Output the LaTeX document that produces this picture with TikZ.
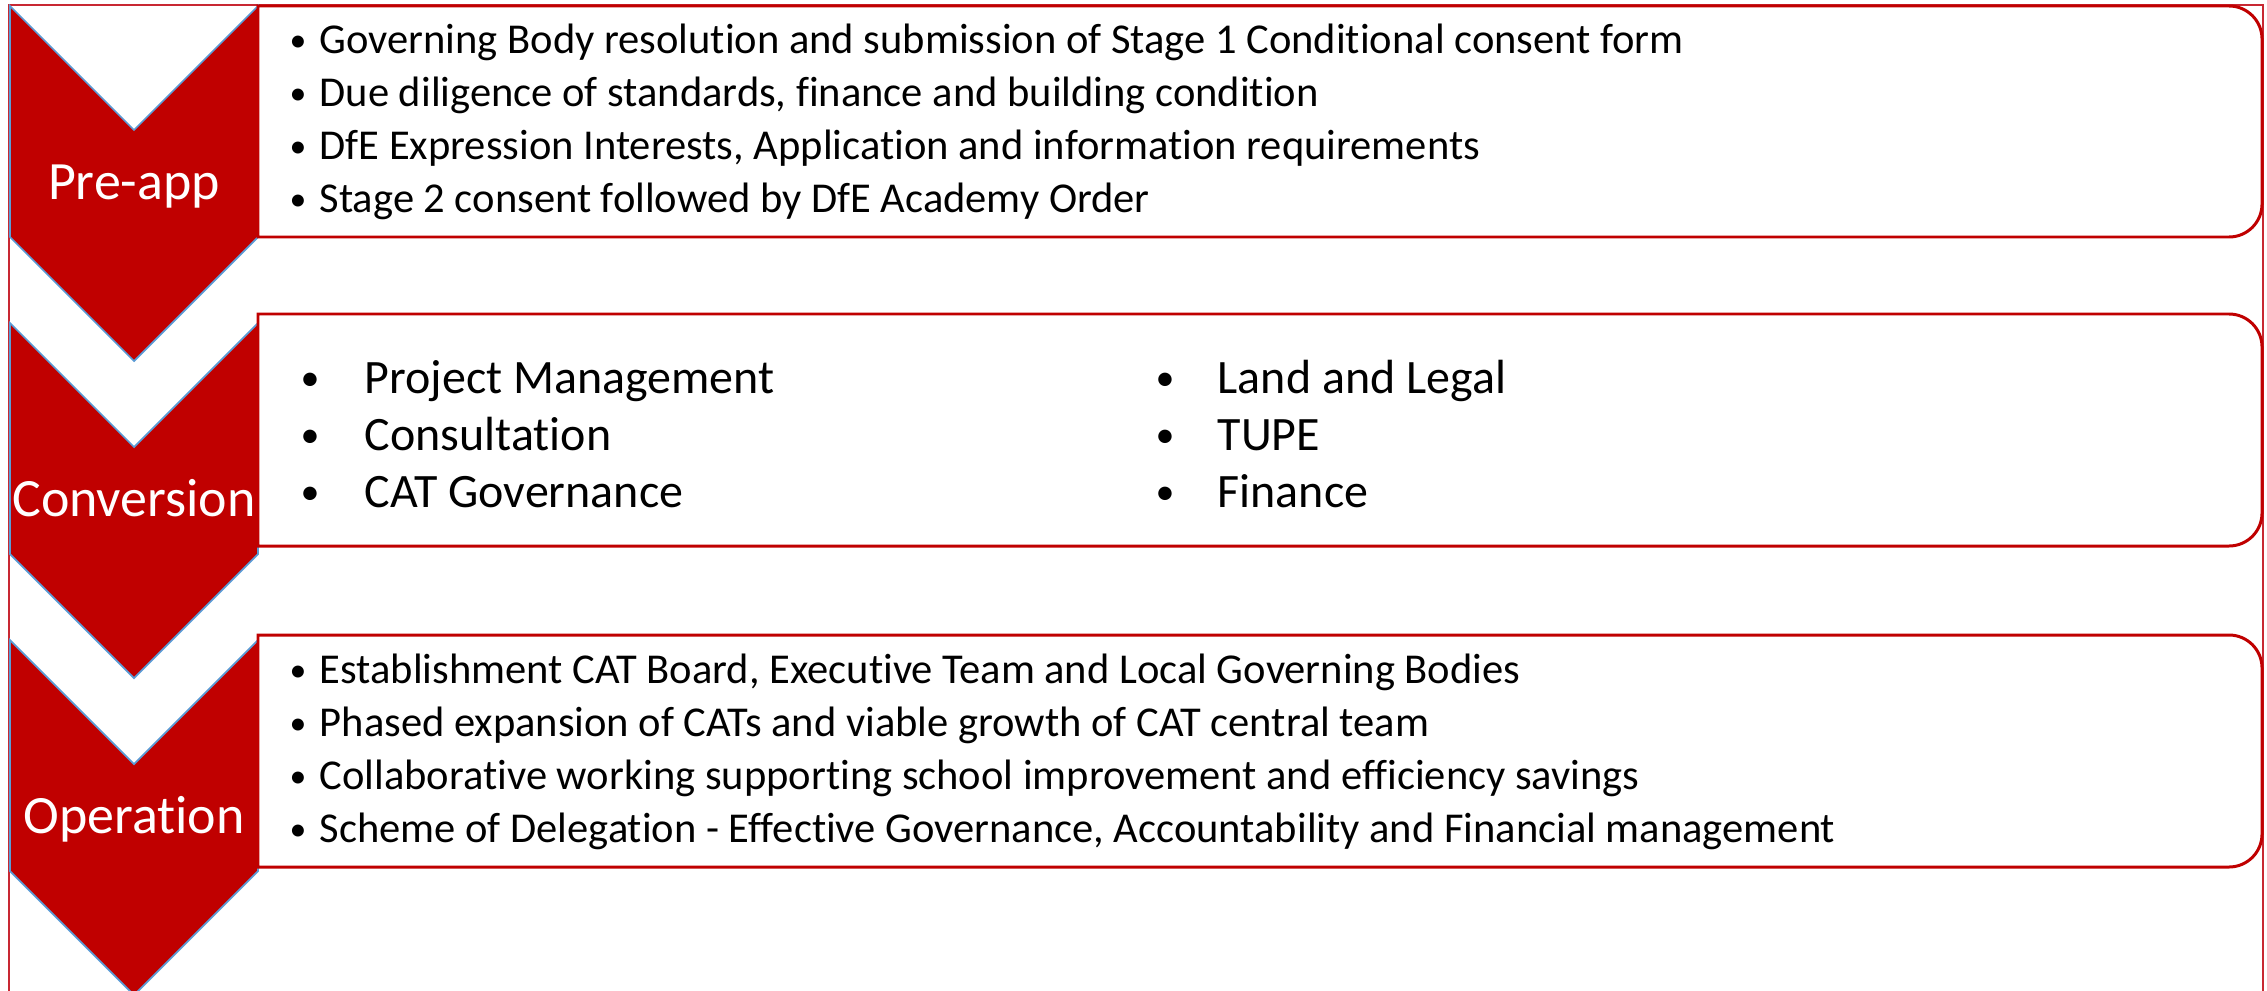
\documentclass[tikz,border=0pt]{standalone}
\usepackage{fontspec}
\setmainfont{Carlito}[Ligatures=NoCommon]
\usepackage{tikz}

\definecolor{chevred}{RGB}{192,0,0}
\definecolor{edgeblue}{RGB}{91,155,213}
\definecolor{framered}{RGB}{200,40,50}

\tikzset{
	outline/.style={draw=framered, line width=0.5pt},
	card/.style={draw=chevred, line width=0.85pt, fill=white},
	chev/.style={fill=chevred, draw=edgeblue, line width=0.5pt},
	stage/.style={anchor=base, text=white, inner sep=0pt, font=\fontsize{15.35}{18}\selectfont},
	bul/.style={anchor=base, inner sep=0pt},
	item/.style={anchor=base west, inner sep=0pt},
	smalltext/.style={font=\fontsize{12.1}{14}\selectfont},
	largetext/.style={font=\fontsize{13.65}{16}\selectfont},
	smalldot/.style={font=\fontsize{9.6}{12}\selectfont},
	largedot/.style={font=\fontsize{10.8}{13}\selectfont},
}

\begin{document}
\begin{tikzpicture}
	\useasboundingbox (0,0) rectangle (22.67,-9.90);
	\draw[outline] (0.09,-0.05) rectangle (22.63,-9.95);

	% chevrons
	\foreach \t/\nm/\lab in {0.06/pre/Pre-app, 3.23/conv/Conversion, 6.40/oper/Operation} {
		\begin{scope}[yshift=-\t cm]
			\filldraw[chev] (0.10,0) -- (1.34,-1.24) -- (2.58,0) -- (2.58,-2.31) -- (1.34,-3.55) -- (0.10,-2.31) -- cycle;
			\node[stage] (\nm) at (1.34,-1.93) {\lab};
		\end{scope}
	}

	% boxes
	\draw[card] (2.58,-0.06) -- (22.29,-0.06) arc (90:0:0.33) -- (22.62,-2.04) arc (0:-90:0.33) -- (2.58,-2.37) -- cycle;
	\draw[card] (2.58,-3.14) -- (22.29,-3.14) arc (90:0:0.33) -- (22.62,-5.13) arc (0:-90:0.33) -- (2.58,-5.46) -- cycle;
	\draw[card] (2.58,-6.35) -- (22.29,-6.35) arc (90:0:0.33) -- (22.62,-8.34) arc (0:-90:0.33) -- (2.58,-8.67) -- cycle;

	% pre-app items
	\foreach \txt [count=\k] in {Governing Body resolution and submission of Stage 1 Conditional consent form,
		{Due diligence of standards, finance and building condition},
		{DfE Expression Interests, Application and information requirements},
		Stage 2 consent followed by DfE Academy Order} {
		\node[bul, smalldot] (preb\k) at (2.98,{-0.51-0.533*(\k-1)}) {•};
		\node[item, smalltext] (pret\k) at (3.19,{-0.53-0.533*(\k-1)}) {\txt};
	}

	% conversion items
	\foreach \txt [count=\k] in {Project Management, Consultation, CAT Governance} {
		\node[bul, largedot] (convb\k) at (3.10,{-3.90-0.57*(\k-1)}) {•};
		\node[item, largetext] (convt\k) at (3.64,{-3.93-0.57*(\k-1)}) {\txt};
	}
	\foreach \txt [count=\k] in {Land and Legal, TUPE, Finance} {
		\node[bul, largedot] (convc\k) at (11.65,{-3.90-0.57*(\k-1)}) {•};
		\node[item, largetext] (convu\k) at (12.17,{-3.93-0.57*(\k-1)}) {\txt};
	}

	% operation items
	\foreach \txt [count=\k] in {{Establishment CAT Board, Executive Team and Local Governing Bodies},
		Phased expansion of CATs and viable growth of CAT central team,
		Collaborative working supporting school improvement and efficiency savings,
		{Scheme of Delegation - Effective Governance, Accountability and Financial management}} {
		\node[bul, smalldot] (operb\k) at (2.98,{-6.81-0.533*(\k-1)}) {•};
		\node[item, smalltext] (opert\k) at (3.19,{-6.83-0.533*(\k-1)}) {\txt};
	}
\end{tikzpicture}
\end{document}
